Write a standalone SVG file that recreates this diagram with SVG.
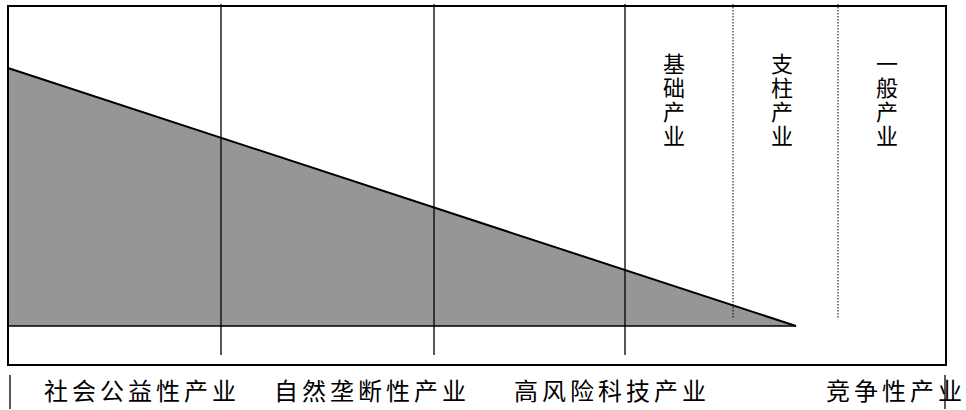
<svg xmlns="http://www.w3.org/2000/svg" width="966" height="410" viewBox="0 0 966 410">
<style>
.t{font-family:"Noto Sans CJK SC","Noto Sans",sans-serif;fill:#000}
.b{font-size:24px;letter-spacing:4px}
.v{font-size:22px;writing-mode:vertical-rl;letter-spacing:2px}
.ln{stroke:#000;stroke-width:1.3;fill:none}
.dot{stroke:#000;stroke-width:1;stroke-dasharray:1.5 1.5;fill:none}
</style>
<rect x="0" y="0" width="966" height="410" fill="#fff"/>
<g id="area">
<polygon points="8,68 796,326 8,326" fill="#969696"/>
<line class="ln" x1="8" y1="326" x2="796" y2="326"/>
<line x1="8" y1="68" x2="796" y2="326" stroke="#000" stroke-width="2"/>
</g>
<g id="connectors">
<line class="ln" x1="221" y1="4" x2="221" y2="355"/>
<line class="ln" x1="434" y1="4" x2="434" y2="355"/>
<line class="ln" x1="625" y1="4" x2="625" y2="355"/>
<line class="dot" x1="733" y1="4" x2="733" y2="318"/>
<line class="dot" x1="838" y1="4" x2="838" y2="318"/>
<line class="ln" x1="10" y1="375" x2="10" y2="409"/>
<line class="ln" x1="945" y1="375" x2="945" y2="409"/>
</g>
<g id="frame">
<rect x="8" y="6" width="938" height="359" fill="none" stroke="#000" stroke-width="2"/>
</g>
<g id="v1"><text class="t v" x="674" y="53">基础产业</text></g>
<g id="v2"><text class="t v" x="782" y="53">支柱产业</text></g>
<g id="v3"><text class="t v" x="887" y="53">一般产业</text></g>
<g id="b1"><text class="t b" x="44" y="400">社会公益性产业</text></g>
<g id="b2"><text class="t b" x="274" y="400">自然垄断性产业</text></g>
<g id="b3"><text class="t b" x="514" y="400">高风险科技产业</text></g>
<g id="b4"><text class="t b" x="826" y="400">竞争性产业</text></g>
</svg>
